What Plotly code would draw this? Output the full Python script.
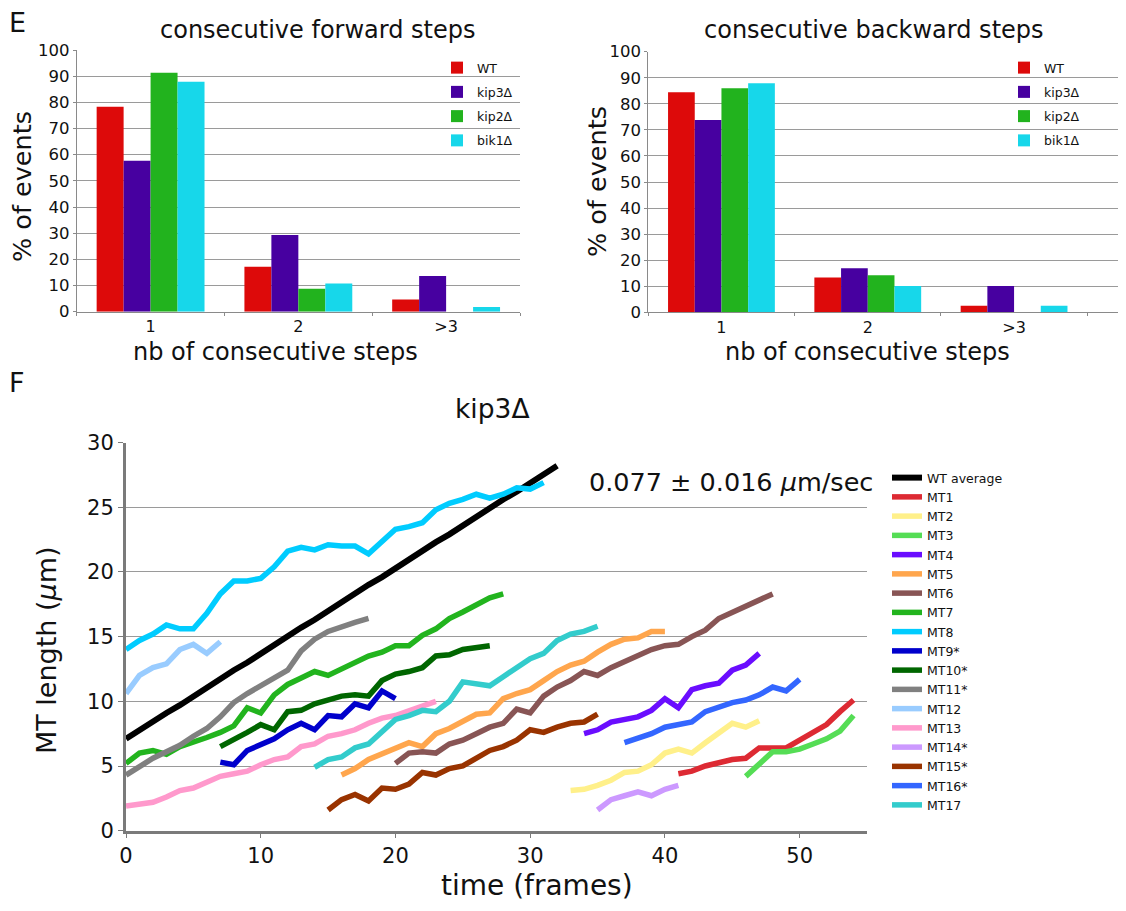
import plotly.graph_objects as go

# window is 1126x911; the page body keeps an 8 px margin, so the figure is sized to fit
OFF = 8
W, H = 1126 - OFF, 911 - OFF
FONT = "DejaVu Sans"

# ---------------- data: bar charts ----------------
categories = ["1", "2", ">3"]
genotypes = ["WT", "kip3Δ", "kip2Δ", "bik1Δ"]
bar_colors = ["#DD0A0A", "#4700A0", "#22B31E", "#17D7EA"]

fwd_wt = [78.3, 17.2, 4.7]
fwd_kip3 = [57.7, 29.3, 13.6]
fwd_kip2 = [91.3, 8.8, 0.0]
fwd_bik1 = [87.9, 10.8, 1.8]

bwd_wt = [84.4, 13.4, 2.5]
bwd_kip3 = [73.8, 16.9, 10.1]
bwd_kip2 = [86.0, 14.2, 0.0]
bwd_bik1 = [87.9, 10.1, 2.5]

# ---------------- data: MT length vs time ----------------
wt_average = [7.1, 7.8, 8.4, 9.1, 9.7, 10.4, 11.1, 11.7, 12.4, 13.0, 13.7, 14.4, 15.0,
              15.7, 16.3, 17.0, 17.7, 18.3, 19.0, 19.6, 20.3, 21.0, 21.6, 22.3, 22.9,
              23.6, 24.3, 24.9, 25.6, 26.2, 26.9, 27.6, 28.2]
mt1 = [4.4, 4.6, 5.0, 5.3, 5.5, 5.6, 6.4, 6.4, 6.4, 7.0, 7.6, 8.2, 9.2, 10.1]
mt2 = [3.1, 3.2, 3.5, 3.9, 4.5, 4.6, 5.1, 6.0, 6.3, 6.0, 6.8, 7.5, 8.3, 8.0, 8.5]
mt3 = [4.2, 5.2, 6.1, 6.1, 6.3, 6.7, 7.1, 7.7, 8.9]
mt4 = [7.5, 7.8, 8.4, 8.6, 8.8, 9.3, 10.2, 9.5, 10.9, 11.2, 11.4, 12.4, 12.8, 13.7]
mt5 = [4.3, 4.8, 5.5, 5.9, 6.4, 6.8, 6.5, 7.5, 7.9, 8.4, 9.0, 9.1, 10.2, 10.6, 10.9,
       11.6, 12.3, 12.8, 13.1, 13.8, 14.4, 14.8, 14.9, 15.4, 15.4]
mt6 = [5.2, 6.0, 6.1, 6.0, 6.7, 7.0, 7.5, 8.0, 8.3, 9.4, 9.1, 10.4, 11.1, 11.6, 12.3,
       12.0, 12.6, 13.1, 13.6, 14.0, 14.3, 14.4, 15.0, 15.5, 16.4, 16.9, 17.4, 17.9, 18.3]
mt7 = [5.2, 6.0, 6.2, 5.9, 6.5, 6.8, 7.2, 7.6, 8.1, 9.5, 9.1, 10.5, 11.3, 11.8, 12.3,
       12.0, 12.5, 12.9, 13.5, 13.8, 14.3, 14.3, 15.1, 15.6, 16.4, 16.9, 17.4, 18.0, 18.3]
mt8 = [14.0, 14.7, 15.2, 15.9, 15.6, 15.6, 16.8, 18.3, 19.3, 19.3, 19.5, 20.4, 21.6,
       21.9, 21.7, 22.1, 22.0, 22.0, 21.4, 22.3, 23.3, 23.5, 23.8, 24.8, 25.3, 25.6,
       26.0, 25.7, 26.0, 26.5, 26.4, 26.9]
mt9 = [5.3, 5.1, 6.2, 6.6, 7.1, 7.8, 8.3, 7.8, 8.9, 8.8, 9.8, 9.5, 10.8, 10.2]
mt10 = [6.5, 7.0, 7.6, 8.2, 7.8, 9.2, 9.3, 9.8, 10.1, 10.4, 10.5, 10.4, 11.6, 12.1,
        12.3, 12.6, 13.5, 13.6, 14.0, 14.1, 14.3]
mt11 = [4.3, 5.0, 5.6, 6.1, 6.6, 7.3, 7.9, 8.8, 9.9, 10.6, 11.2, 11.8, 12.4, 13.9,
        14.8, 15.4, 15.8, 16.1, 16.4]
mt12 = [10.6, 12.0, 12.6, 12.9, 14.0, 14.4, 13.7, 14.6]
mt13 = [1.9, 2.1, 2.2, 2.6, 3.1, 3.3, 3.7, 4.2, 4.4, 4.6, 5.1, 5.5, 5.7, 6.5, 6.7,
        7.3, 7.5, 7.8, 8.3, 8.7, 8.9, 9.3, 9.6, 10.0]
mt14 = [1.6, 2.4, 2.7, 3.0, 2.7, 3.2, 3.5]
mt15 = [1.6, 2.4, 2.8, 2.3, 3.3, 3.2, 3.6, 4.5, 4.3, 4.8, 5.0, 5.6, 6.2, 6.5, 7.0,
        7.8, 7.6, 8.0, 8.3, 8.4, 9.0]
mt16 = [6.8, 7.1, 7.5, 8.0, 8.2, 8.4, 9.2, 9.6, 9.9, 10.1, 10.5, 11.1, 10.8, 11.7]
mt17 = [4.9, 5.5, 5.7, 6.4, 6.7, 7.7, 8.6, 8.9, 9.3, 9.2, 10.0, 11.5, 11.4, 11.2,
        11.9, 12.6, 13.3, 13.7, 14.7, 15.2, 15.4, 15.8]

series_names = ["WT average", "MT1", "MT2", "MT3", "MT4", "MT5", "MT6", "MT7", "MT8",
                "MT9*", "MT10*", "MT11*", "MT12", "MT13", "MT14*", "MT15*", "MT16*", "MT17"]
series_values = [wt_average, mt1, mt2, mt3, mt4, mt5, mt6, mt7, mt8,
                 mt9, mt10, mt11, mt12, mt13, mt14, mt15, mt16, mt17]
series_start_frame = [0, 41, 33, 46, 34, 16, 20, 0, 0, 7, 7, 0, 0, 0, 35, 15, 37, 14]
series_colors = ["#000000", "#DD2A33", "#FFF08A", "#55DD55", "#6A0DFF", "#FFA64D",
                 "#885555", "#22B41E", "#00CCFF", "#0000CC", "#006600", "#808080",
                 "#99CCFF", "#FF99CC", "#CC99FF", "#993300", "#3366FF", "#33CCCC"]

# ---------------- helpers (layout only; window pixel -> paper fraction) ----------------
def fx(px):
    return (px - OFF) / W

def fy(py):
    return 1 - (py - OFF) / H

fig = go.Figure()

# bar charts
fwd = [fwd_wt, fwd_kip3, fwd_kip2, fwd_bik1]
bwd = [bwd_wt, bwd_kip3, bwd_kip2, bwd_bik1]
for name, vals, col in zip(genotypes, fwd, bar_colors):
    fig.add_trace(go.Bar(x=categories, y=vals, name=name, marker_color=col,
                         marker_line_width=0, xaxis="x", yaxis="y",
                         legend="legend2", legendgroup="f" + name))
for name, vals, col in zip(genotypes, bwd, bar_colors):
    fig.add_trace(go.Bar(x=categories, y=vals, name=name, marker_color=col,
                         marker_line_width=0, xaxis="x2", yaxis="y2",
                         legend="legend3", legendgroup="b" + name))

# lines
for name, vals, start, col in zip(series_names, series_values, series_start_frame, series_colors):
    frames = list(range(start, start + len(vals)))
    fig.add_trace(go.Scatter(x=frames, y=vals, mode="lines", name=name,
                             line=dict(color=col, width=6 if name == "WT average" else 5.5),
                             xaxis="x3", yaxis="y3", legend="legend"))

grid = "#9a9a9a"
bar_x_common = dict(type="category", showline=True, linecolor="#8a8a8a", linewidth=1,
                    ticks="outside", ticklen=3, tickcolor="#8a8a8a", tickson="boundaries",
                    showgrid=False, automargin=False, tickfont=dict(size=16, color="#111"))
bar_y_common = dict(range=[0, 100], dtick=10, showline=True, linecolor="#8a8a8a",
                    linewidth=1, ticks="outside", ticklen=3, tickcolor="#8a8a8a",
                    showgrid=True, gridcolor=grid, gridwidth=1, zeroline=False,
                    automargin=False, tickfont=dict(size=16.5, color="#111"))

fig.update_layout(
    template="none",
    width=W, height=H, autosize=False,
    margin=dict(l=0, r=0, t=0, b=0, pad=0, autoexpand=False),
    paper_bgcolor="white", plot_bgcolor="white",
    font=dict(family=FONT, color="#111"),
    barmode="group", bargap=0.27, bargroupgap=0,
    showlegend=True,
    xaxis=dict(domain=[fx(76.7), fx(520)], anchor="y", range=[-0.5, 2.5], **bar_x_common),
    yaxis=dict(domain=[fy(311.7), fy(50)], anchor="x", **bar_y_common),
    xaxis2=dict(domain=[fx(648.3), 1.0], anchor="y2", range=[-0.5, 2.765], **bar_x_common),
    yaxis2=dict(domain=[fy(312.3), fy(51.7)], anchor="x2", **bar_y_common),
    xaxis3=dict(domain=[fx(126), fx(867)], anchor="y3", range=[0, 55], dtick=10,
                showline=True, linecolor="#7a7a7a", linewidth=3, ticks="outside",
                ticklen=4, tickcolor="#7a7a7a", showgrid=False, zeroline=False,
                automargin=False, tickfont=dict(size=21, color="#111")),
    yaxis3=dict(domain=[fy(830.7), fy(442.5)], anchor="x3", range=[0, 30], dtick=5,
                showline=True, linecolor="#7a7a7a", linewidth=3, ticks="outside",
                ticklen=5, tickcolor="#7a7a7a", showgrid=True, gridcolor=grid,
                gridwidth=1, zeroline=False, automargin=False,
                tickfont=dict(size=21, color="#111")),
    legend=dict(x=fx(887), y=fy(463), xanchor="left", yanchor="top",
                font=dict(size=12.5, family=FONT), bgcolor="rgba(0,0,0,0)",
                itemwidth=30, tracegroupgap=0),
    legend2=dict(x=fx(437), y=fy(53), xanchor="left", yanchor="top",
                 font=dict(size=12.5, family=FONT), bgcolor="rgba(0,0,0,0)",
                 tracegroupgap=5),
    legend3=dict(x=fx(1004), y=fy(53), xanchor="left", yanchor="top",
                 font=dict(size=12.5, family=FONT), bgcolor="rgba(0,0,0,0)",
                 tracegroupgap=5),
)

def ann(text, x, y, size, angle=0, xanchor="center"):
    fig.add_annotation(text=text, x=fx(x), y=fy(y), xref="paper", yref="paper",
                       showarrow=False, textangle=angle, xanchor=xanchor, yanchor="middle",
                       font=dict(size=size, family=FONT, color="#111"))

ann("E", 17, 23, 27)
ann("F", 17, 382, 27)
ann("consecutive forward steps", 318, 30, 24)
ann("nb of consecutive steps", 275, 352, 24)
ann("% of events", 22, 187, 25.5, -90)
ann("consecutive backward steps", 874, 30, 24)
ann("nb of consecutive steps", 867, 352, 24)
ann("% of events", 597, 182, 25.5, -90)
ann("kip3Δ", 492, 408, 26.5)
ann("time (frames)", 537, 885, 28)
ann("MT length (<i>μ</i>m)", 46, 650, 27, -90)
ann("0.077 ± 0.016 <i>μ</i>m/sec", 587, 482, 25.5, 0, "left")

fig.write_html("out.html")
